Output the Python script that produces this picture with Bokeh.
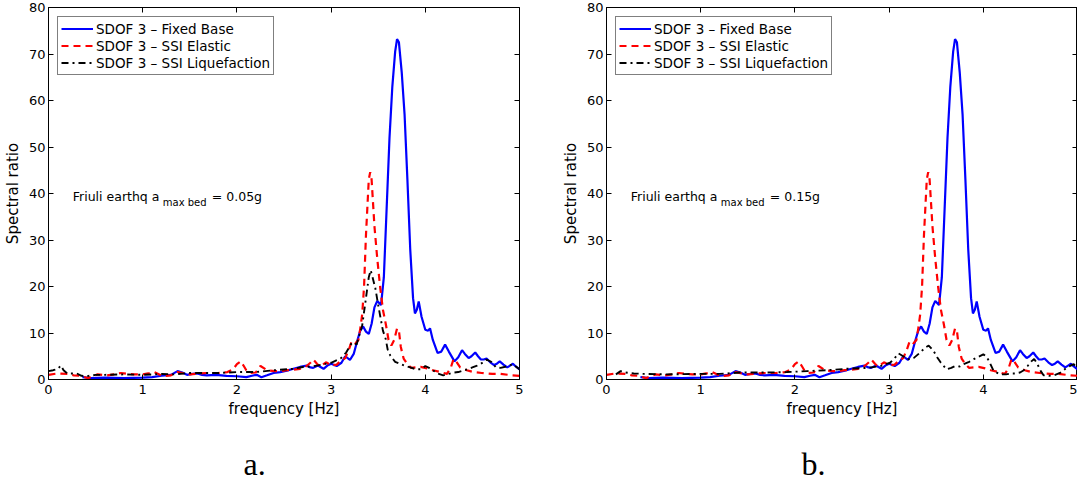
from bokeh.plotting import figure
from bokeh.models import Range1d, LinearAxis, FixedTicker, Legend, LegendItem, Label, Title
from bokeh.layouts import row
from bokeh.embed import file_html
from bokeh.resources import INLINE

# ---------------- data ----------------
x_ticks = [0, 1, 2, 3, 4, 5]
y_ticks = [0, 10, 20, 30, 40, 50, 60, 70, 80]

series_names = ["SDOF 3 \u2013 Fixed Base", "SDOF 3 \u2013 SSI Elastic", "SDOF 3 \u2013 SSI Liquefaction"]
panel_tags = ["a.", "b."]
amax_labels = ["= 0.05g", "= 0.15g"]

# Fixed base (same in both panels)
f_fixed = [0.36, 0.45, 0.6, 0.8, 1.0, 1.1, 1.2, 1.3, 1.37, 1.42,
           1.47, 1.53, 1.58, 1.63, 1.68, 1.78, 1.89, 2.0, 2.1, 2.16,
           2.21, 2.26, 2.32, 2.39, 2.46, 2.53, 2.60, 2.67, 2.74, 2.78,
           2.81, 2.86, 2.92, 2.96, 3.0, 3.06, 3.11, 3.15, 3.2, 3.24,
           3.28, 3.31, 3.34, 3.37, 3.40, 3.43, 3.46, 3.49, 3.53, 3.56,
           3.59, 3.62, 3.65, 3.68, 3.70, 3.72, 3.75, 3.78, 3.81, 3.84,
           3.87, 3.89, 3.91, 3.93, 3.96, 4.0, 4.03, 4.05, 4.08, 4.13,
           4.17, 4.21, 4.25, 4.31, 4.35, 4.39, 4.42, 4.46, 4.49, 4.53,
           4.56, 4.59, 4.62, 4.65, 4.69, 4.73, 4.76, 4.79, 4.83, 4.87,
           4.9, 4.93, 4.96, 5.0]
s_fixed = [0.5, 0.3, 0.4, 0.3, 0.4, 0.5, 0.8, 1.0, 1.8, 1.5,
           1.0, 1.2, 1.3, 1.0, 0.9, 1.0, 0.8, 0.7, 0.5, 0.8,
           1.0, 0.5, 0.9, 1.4, 1.6, 1.9, 2.3, 2.7, 3.0, 2.6,
           2.5, 3.0, 2.3, 3.0, 3.4, 2.9, 3.6, 5.0, 4.2, 5.5,
           8.5, 10.5, 11.4, 10.3, 9.8, 12.0, 15.5, 16.9, 16.0, 22.0,
           37.0, 52.0, 63.0, 70.5, 73.2, 72.5, 66.0, 57.0, 43.0, 28.0,
           17.5, 14.2, 15.0, 16.8, 13.5, 10.7, 10.5, 11.0, 8.5, 5.7,
           6.0, 7.5, 6.0, 3.9, 4.8, 6.3, 5.5, 4.6, 5.0, 5.8,
           5.0, 4.3, 4.3, 4.5, 3.7, 3.1, 3.4, 3.9, 3.2, 2.6,
           3.0, 3.4, 2.8, 2.2]

# SSI elastic (same in both panels)
f_elastic = [0.0, 0.09, 0.2, 0.27, 0.33, 0.42, 0.52, 0.62, 0.7, 0.77,
             0.85, 0.91, 1.0, 1.06, 1.12, 1.22, 1.3, 1.37, 1.44, 1.5,
             1.6, 1.68, 1.8, 1.9, 1.96, 2.0, 2.04, 2.07, 2.1, 2.14,
             2.2, 2.25, 2.32, 2.4, 2.46, 2.53, 2.6, 2.67, 2.74, 2.78,
             2.81, 2.85, 2.88, 2.95, 3.0, 3.06, 3.1, 3.15, 3.19, 3.22,
             3.26, 3.29, 3.31, 3.33, 3.35, 3.37, 3.40, 3.415, 3.43, 3.46,
             3.49, 3.52, 3.55, 3.58, 3.61, 3.64, 3.67, 3.70, 3.72, 3.74,
             3.77, 3.81, 3.85, 3.9, 3.95, 4.02, 4.08, 4.16, 4.23, 4.27,
             4.3, 4.33, 4.37, 4.44, 4.51, 4.6, 4.71, 4.8, 4.92, 5.0]
s_elastic = [1.0, 1.3, 1.2, 0.9, 0.8, 0.3, 1.1, 0.9, 1.1, 1.4,
             1.2, 1.1, 1.1, 1.3, 1.6, 0.7, 0.9, 1.6, 1.3, 1.1,
             1.3, 1.4, 1.4, 1.6, 2.2, 3.3, 3.9, 3.0, 2.0, 1.4,
             1.5, 2.9, 2.0, 1.8, 1.8, 2.0, 2.1, 2.3, 2.9, 3.6,
             4.3, 3.4, 2.8, 3.7, 3.0, 3.2, 4.0, 4.6, 6.5, 8.3,
             7.8, 8.5, 11.0, 14.0, 20.0, 31.0, 43.0, 44.6, 43.0, 33.0,
             26.0, 20.0, 15.0, 12.0, 8.5, 7.3, 8.5, 11.0, 10.5, 7.0,
             4.5, 3.3, 2.5, 2.6, 2.7, 2.4, 2.0, 1.6, 1.2, 2.5,
             4.4, 3.8, 2.6, 2.0, 1.6, 1.4, 1.2, 1.2, 0.9, 0.8]

# SSI liquefaction, a_max bed = 0.05g (panel a)
f_liq_a = [0.0, 0.05, 0.1, 0.13, 0.16, 0.2, 0.3, 0.35, 0.4, 0.5,
           0.6, 0.8, 1.0, 1.2, 1.33, 1.5, 1.8, 2.0, 2.2, 2.4,
           2.6, 2.7, 2.8, 2.9, 3.0, 3.1, 3.16, 3.21, 3.24, 3.27,
           3.30, 3.33, 3.36, 3.38, 3.40, 3.42, 3.44, 3.47, 3.50, 3.52,
           3.55, 3.58, 3.60, 3.63, 3.68, 3.74, 3.79, 3.84, 3.9, 3.95,
           4.0, 4.04, 4.08, 4.13, 4.19, 4.25, 4.30, 4.35, 4.40, 4.45,
           4.5, 4.55, 4.6, 4.65, 4.7, 4.75, 4.8, 4.86, 4.93, 5.0]
s_liq_a = [1.8, 2.0, 2.3, 3.0, 2.0, 1.3, 1.3, 0.8, 0.7, 1.0,
           1.0, 1.1, 1.0, 1.2, 1.1, 1.4, 1.4, 1.6, 1.6, 2.0,
           2.3, 2.7, 2.8, 3.2, 3.6, 4.5, 5.8, 7.6, 8.0, 7.5,
           9.5, 11.6, 16.0, 19.0, 22.0, 23.5, 22.0, 19.6, 16.0, 13.8,
           10.5, 8.7, 6.5, 5.1, 3.8, 3.3, 2.9, 2.6, 2.2, 2.2,
           2.9, 2.5, 2.0, 1.3, 0.9, 1.2, 1.5, 1.6, 1.9, 2.2,
           2.6, 3.0, 3.5, 4.3, 3.8, 2.6, 2.5, 2.8, 3.3, 2.2]

# SSI liquefaction, a_max bed = 0.15g (panel b)
f_liq_b = [0.1, 0.15, 0.2, 0.29, 0.4, 0.64, 1.0, 1.2, 1.42, 1.7,
           1.92, 2.13, 2.34, 2.55, 2.77, 2.91, 3.01, 3.06, 3.10, 3.15,
           3.19, 3.26, 3.33, 3.38, 3.42, 3.47, 3.51, 3.55, 3.61, 3.66,
           3.70, 3.75, 3.79, 3.85, 3.90, 3.95, 4.0, 4.03, 4.06, 4.11,
           4.18, 4.24, 4.29, 4.34, 4.39, 4.43, 4.47, 4.51, 4.54, 4.57,
           4.61, 4.64, 4.7, 4.75, 4.82, 4.89, 4.96, 5.0]
s_liq_b = [1.1, 1.8, 1.5, 1.3, 1.2, 1.1, 1.2, 1.2, 1.5, 1.5,
           1.6, 1.8, 2.0, 2.3, 2.5, 2.9, 3.6, 4.6, 5.6, 5.0,
           4.3, 4.6, 5.8, 6.8, 7.3, 6.2, 4.8, 3.6, 2.2, 2.5,
           2.9, 2.8, 3.3, 3.8, 4.4, 4.9, 5.4, 5.0, 4.0, 1.8,
           1.1, 1.1, 1.3, 1.3, 1.5, 2.0, 2.9, 3.9, 4.4, 3.5,
           1.8, 0.9, 0.8, 0.9, 1.5, 2.6, 3.3, 2.4]

# ---------------- styling ----------------
SANS = "DejaVu Sans"
SERIF = "Liberation Serif"


def make_panel(liq_f, liq_s, amax_text, tag, border_left, border_right):
    p = figure(frame_width=471, frame_height=372,
               min_border_left=border_left, min_border_right=border_right,
               min_border_top=7, min_border_bottom=100,
               x_range=Range1d(0, 5), y_range=Range1d(0, 80),
               output_backend="svg", toolbar_location=None)
    p.background_fill_color = "white"
    p.border_fill_color = "white"
    p.outline_line_color = "black"
    p.outline_line_width = 1
    p.grid.visible = False

    for ax, ticks in ((p.xaxis[0], x_ticks), (p.yaxis[0], y_ticks)):
        ax.ticker = FixedTicker(ticks=ticks)
        ax.major_tick_in = 5
        ax.major_tick_out = 0
        ax.minor_tick_line_color = None
        ax.axis_line_color = "black"
        ax.major_tick_line_color = "black"
        ax.major_label_text_font = SANS
        ax.major_label_text_font_size = "13px"
        ax.major_label_text_color = "black"
        ax.axis_label_text_font = SANS
        ax.axis_label_text_font_size = "15px"
        ax.axis_label_text_font_style = "normal"
        ax.axis_label_text_color = "black"
    p.xaxis.axis_label = "frequency [Hz]"
    p.xaxis.major_label_standoff = 5
    p.xaxis.axis_label_standoff = 3
    p.yaxis.axis_label = "Spectral ratio"
    p.yaxis.major_label_standoff = 3
    p.yaxis.axis_label_standoff = 4

    # inward ticks on the top and right sides (MATLAB box style)
    for side, ticks in (("above", x_ticks), ("right", y_ticks)):
        ax = LinearAxis(ticker=FixedTicker(ticks=ticks),
                        major_tick_in=5, major_tick_out=0,
                        minor_tick_line_color=None, axis_line_color=None,
                        major_tick_line_color="black",
                        major_label_text_font_size="0px",
                        major_label_text_color=None,
                        major_label_standoff=0)
        p.add_layout(ax, side)

    r1 = p.line(f_fixed, s_fixed, line_color="#0000FF", line_width=2.2)
    r2 = p.line(f_elastic, s_elastic, line_color="#FF0000", line_width=2.2,
                line_dash="7 5")
    r3 = p.line(liq_f, liq_s, line_color="black", line_width=1.9,
                line_dash="7 4 2 4")

    legend = Legend(items=[LegendItem(label=series_names[0], renderers=[r1]),
                           LegendItem(label=series_names[1], renderers=[r2]),
                           LegendItem(label=series_names[2], renderers=[r3])],
                    location="top_left", margin=9, padding=3, spacing=0,
                    label_height=17, glyph_height=17, glyph_width=32,
                    label_standoff=3,
                    label_text_font=SANS, label_text_font_size="13.5px",
                    label_text_color="black",
                    border_line_color="black", border_line_width=1,
                    background_fill_color="white", background_fill_alpha=1)
    p.add_layout(legend)

    common = dict(text_font=SANS, text_color="black", text_baseline="alphabetic")
    p.add_layout(Label(x=0.258, y=39.4, text="Friuli earthq a",
                       text_font_size="12.5px", **common))
    p.add_layout(Label(x=0.258, y=39.4, x_offset=90, y_offset=-6,
                       text="max bed", text_font_size="10px", **common))
    p.add_layout(Label(x=0.258, y=39.4, x_offset=139, text=amax_text,
                       text_font_size="12.5px", **common))

    p.add_layout(Title(text=tag, align="left", offset=195, standoff=46,
                       text_font=SERIF, text_font_size="32px",
                       text_font_style="normal", text_color="black"), "below")
    return p


pa = make_panel(f_liq_a, s_liq_a, amax_labels[0], panel_tags[0], 44, 35)
pb = make_panel(f_liq_b, s_liq_b, amax_labels[1], panel_tags[1], 52, 0)

layout = row(pa, pb)
open("out.html", "w").write(file_html(layout, INLINE))
